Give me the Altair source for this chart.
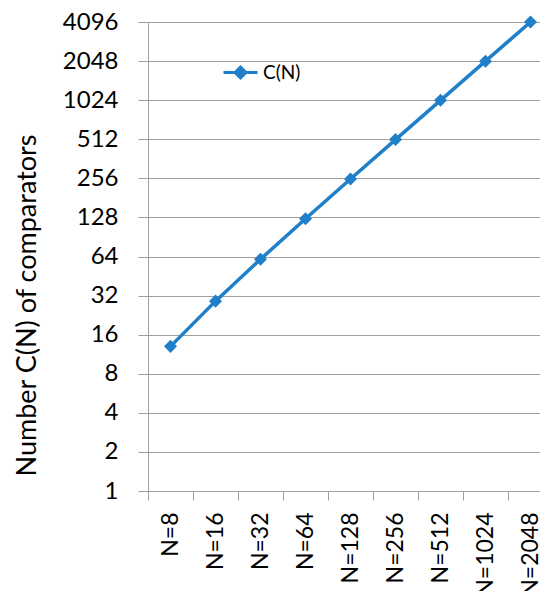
import altair as alt
import pandas as pd

labels = ["N=8", "N=16", "N=32", "N=64", "N=128", "N=256", "N=512", "N=1024", "N=2048"]
values = [13, 29, 61, 125, 253, 509, 1021, 2045, 4093]
series = ["C(N)"] * len(labels)
y_ticks = [1, 2, 4, 8, 16, 32, 64, 128, 256, 512, 1024, 2048, 4096]

df = pd.DataFrame({"label": labels, "value": values, "series": series})

BLUE = "#1f7fc8"
GRAY = "#a0a0a0"
FONT = "Lato"

legend_symbol = "M-1,0H1M0,-0.32L0.32,0L0,0.32L-0.32,0Z"

chart = alt.Chart(df).mark_line(
    strokeWidth=3.5,
    point=alt.OverlayMarkDef(shape="diamond", size=170, filled=True, color=BLUE),
).encode(
    x=alt.X(
        "label:N",
        sort=labels,
        scale=alt.Scale(type="band", paddingInner=0, paddingOuter=0, range=[0, 405]),
        axis=alt.Axis(
            title=None,
            labelAngle=-90,
            labelFont=FONT,
            labelFontSize=23,
            labelColor="#000000",
            labelPadding=12,
            tickBand="extent",
            tickSize=9,
            tickColor=GRAY,
            domainColor=GRAY,
            grid=False,
        ),
    ),
    y=alt.Y(
        "value:Q",
        scale=alt.Scale(type="log", base=2, domain=[1, 4096], nice=False),
        axis=alt.Axis(
            title="Number C(N) of comparators",
            titleFont=FONT,
            titleFontSize=27,
            titleFontWeight="normal",
            titleColor="#000000",
            titleAngle=-90,
            titleAlign="center",
            titleBaseline="middle",
            titleX=-121,
            titleY=283,
            values=y_ticks,
            format="d",
            labelFont=FONT,
            labelFontSize=24,
            labelColor="#000000",
            labelPadding=20,
            tickSize=10,
            tickColor=GRAY,
            domainColor=GRAY,
            gridColor=GRAY,
            gridWidth=1,
        ),
    ),
    color=alt.Color(
        "series:N",
        scale=alt.Scale(range=[BLUE]),
        legend=alt.Legend(
            title=None,
            orient="none",
            legendX=74,
            legendY=32,
            symbolType=legend_symbol,
            symbolSize=1156,
            symbolStrokeWidth=3,
            symbolFillColor=BLUE,
            symbolStrokeColor=BLUE,
            labelFont=FONT,
            labelFontSize=19,
            labelColor="#000000",
            labelOffset=4,
        ),
    ),
).properties(
    width=392,
    height=469,
    autosize=alt.AutoSizeParams(type="none"),
    padding={"left": 140, "top": 14, "right": 0, "bottom": 100},
).configure_view(stroke=None).configure(background="white")

chart.save("out.html", embed_options={"renderer": "svg", "actions": False})
